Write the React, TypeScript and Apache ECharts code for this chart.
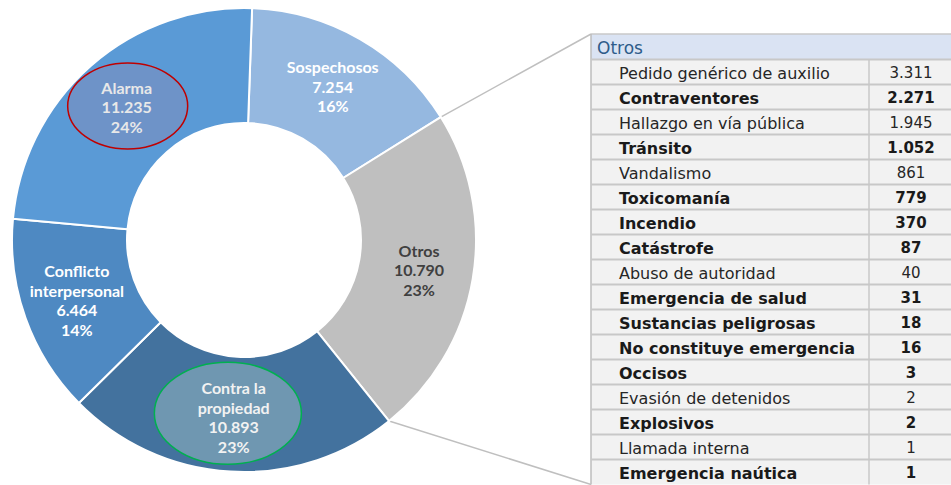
import React, { useEffect, useRef } from 'react';
import * as echarts from 'echarts';

// Donut data
const pieNames = ['Sospechosos', 'Otros', 'Contra la propiedad', 'Conflicto interpersonal', 'Alarma'];
const pieLabelNames = ['Sospechosos', 'Otros', 'Contra la\npropiedad', 'Conflicto\ninterpersonal', 'Alarma'];
const pieValues = [7254, 10790, 10893, 6464, 11235];
const pieColors = ['#95B8E0', '#BFBFBF', '#43729E', '#4E89C2', '#5A9AD6'];
const pieLabelColors = ['#FFFFFF', '#404040', '#F2F2F2', '#FFFFFF', '#E8E8E8'];

// "Otros" breakdown table
const otrosCategories = [
  'Pedido genérico de auxilio',
  'Contraventores',
  'Hallazgo en vía pública',
  'Tránsito',
  'Vandalismo',
  'Toxicomanía',
  'Incendio',
  'Catástrofe',
  'Abuso de autoridad',
  'Emergencia de salud',
  'Sustancias peligrosas',
  'No constituye emergencia',
  'Occisos',
  'Evasión de detenidos',
  'Explosivos',
  'Llamada interna',
  'Emergencia naútica',
];
const otrosValues = [3311, 2271, 1945, 1052, 861, 779, 370, 87, 40, 31, 18, 16, 3, 2, 2, 1, 1];
const otrosBold = [false, true, false, true, false, true, true, true, false, true, true, true, true, false, true, false, true];
const tableTitle = 'Otros';

const fmt = (n: number) => String(n).replace(/\B(?=(\d{3})+(?!\d))/g, '.');

export default function App() {
  const ref = useRef<HTMLDivElement>(null);
  useEffect(() => {
    document.body.style.margin = '0';
    const chart = echarts.init(ref.current!, null, { renderer: 'svg' });

    const cx = 244;
    const cy = 240;
    const r0 = 117;
    const R = 232;
    const startAngle = 88;
    const total = pieValues.reduce((a, b) => a + b, 0);
    const cum: number[] = [];
    let acc = 0;
    pieValues.forEach((v) => {
      cum.push(acc);
      acc += v;
    });
    const pointAt = (frac: number, rad: number) => {
      const a = ((startAngle - frac * 360) * Math.PI) / 180;
      return [cx + rad * Math.cos(a), cy - rad * Math.sin(a)];
    };
    const otrosIdx = 1;
    const pA = pointAt(cum[otrosIdx] / total, R);
    const pB = pointAt((cum[otrosIdx] + pieValues[otrosIdx]) / total, R);
    const midPoint = (i: number) => pointAt((cum[i] + pieValues[i] / 2) / total, (r0 + R) / 2);
    const alarmaC = midPoint(4);
    const contraC = midPoint(2);

    // table layout
    const tx = 591;
    const tRight = 951;
    const headerTop = 34;
    const headerH = 25.5;
    const rowH = 25;
    const colX = 869;
    const valX = 911;
    const rowsTop = headerTop + headerH;
    const tBottom = rowsTop + rowH * otrosCategories.length;
    const tableFont = 'DejaVu Sans';

    const graphics: any[] = [];
    // connector lines
    graphics.push({
      type: 'line', z: 1,
      shape: { x1: pA[0], y1: pA[1], x2: tx, y2: headerTop },
      style: { stroke: '#BFBFBF', lineWidth: 1.5 },
    });
    graphics.push({
      type: 'line', z: 1,
      shape: { x1: pB[0], y1: pB[1], x2: tx, y2: tBottom },
      style: { stroke: '#BFBFBF', lineWidth: 1.5 },
    });
    // ellipses
    graphics.push({
      type: 'ellipse', z: 3,
      shape: { cx: alarmaC[0] - 1, cy: alarmaC[1] - 3, rx: 60, ry: 43 },
      style: { fill: '#6E93C8', stroke: '#C00000', lineWidth: 1.5 },
    });
    graphics.push({
      type: 'ellipse', z: 3,
      shape: { cx: contraC[0] - 6, cy: contraC[1] - 1, rx: 73.5, ry: 51 },
      style: { fill: '#6F97B1', stroke: '#00B050', lineWidth: 1.5 },
    });
    // table background
    graphics.push({
      type: 'rect', z: 5,
      shape: { x: tx, y: rowsTop, width: tRight - tx, height: tBottom - rowsTop },
      style: { fill: '#F2F2F2' },
    });
    graphics.push({
      type: 'rect', z: 5,
      shape: { x: tx, y: headerTop, width: tRight - tx, height: headerH },
      style: { fill: '#DAE3F3' },
    });
    graphics.push({
      type: 'text', z: 7,
      x: tx + 6, y: headerTop + headerH / 2 + 1,
      style: { text: tableTitle, fill: '#2E5C8A', fontSize: 17, fontFamily: tableFont, verticalAlign: 'middle', align: 'left' },
    });
    // borders
    graphics.push({
      type: 'line', z: 6,
      shape: { x1: tx, y1: headerTop, x2: tRight, y2: headerTop },
      style: { stroke: '#C8C8C8', lineWidth: 1.5 },
    });
    graphics.push({
      type: 'line', z: 6,
      shape: { x1: tx, y1: headerTop, x2: tx, y2: tBottom },
      style: { stroke: '#BDBDBD', lineWidth: 1.5 },
    });
    graphics.push({
      type: 'line', z: 6,
      shape: { x1: colX, y1: rowsTop, x2: colX, y2: tBottom },
      style: { stroke: '#C8C8C8', lineWidth: 1.5 },
    });
    otrosCategories.forEach((c, i) => {
      const y0 = rowsTop + i * rowH;
      graphics.push({
        type: 'line', z: 6,
        shape: { x1: tx, y1: y0, x2: tRight, y2: y0 },
        style: { stroke: '#C8C8C8', lineWidth: 2 },
      });
      const bold = otrosBold[i];
      graphics.push({
        type: 'text', z: 7,
        x: 619, y: y0 + rowH / 2 + 1,
        style: {
          text: c, fill: bold ? '#1A1A1A' : '#262626', fontSize: 16,
          fontWeight: bold ? 'bold' : 'normal', fontFamily: tableFont,
          verticalAlign: 'middle', align: 'left',
        },
      });
      graphics.push({
        type: 'text', z: 7,
        x: valX, y: y0 + rowH / 2 + 1,
        style: {
          text: fmt(otrosValues[i]), fill: bold ? '#1A1A1A' : '#262626', fontSize: 15,
          fontWeight: bold ? 'bold' : 'normal', fontFamily: tableFont,
          verticalAlign: 'middle', align: 'center',
        },
      });
    });

    const baseData = pieNames.map((n, i) => ({
      name: n,
      value: pieValues[i],
      itemStyle: { color: pieColors[i] },
    }));
    const labelData = pieNames.map((n, i) => ({
      name: n,
      value: pieValues[i],
      itemStyle: { color: 'rgba(0,0,0,0)', borderWidth: 0 },
      label: { color: pieLabelColors[i] },
    }));

    chart.setOption({
      animation: false,
      backgroundColor: '#FFFFFF',
      series: [
        {
          type: 'pie',
          z: 2,
          center: [cx, cy],
          radius: [r0, R],
          startAngle,
          clockwise: true,
          avoidLabelOverlap: false,
          label: { show: false },
          labelLine: { show: false },
          itemStyle: { borderColor: '#FFFFFF', borderWidth: 2 },
          data: baseData,
        },
        {
          type: 'pie',
          z: 4,
          silent: true,
          center: [cx, cy],
          radius: [r0, R],
          startAngle,
          clockwise: true,
          avoidLabelOverlap: false,
          labelLine: { show: false },
          label: {
            show: true,
            position: 'inside',
            fontFamily: 'Lato',
            fontWeight: 'bold',
            fontSize: 16,
            lineHeight: 19.5,
            align: 'center',
            formatter: (p: any) =>
              `${pieLabelNames[p.dataIndex]}\n${fmt(p.value)}\n${Math.round(p.percent)}%`,
          },
          data: labelData,
        },
      ],
      graphic: graphics,
    });
    return () => chart.dispose();
  }, []);
  return <div ref={ref} style={{ width: 951, height: 485 }} />;
}
